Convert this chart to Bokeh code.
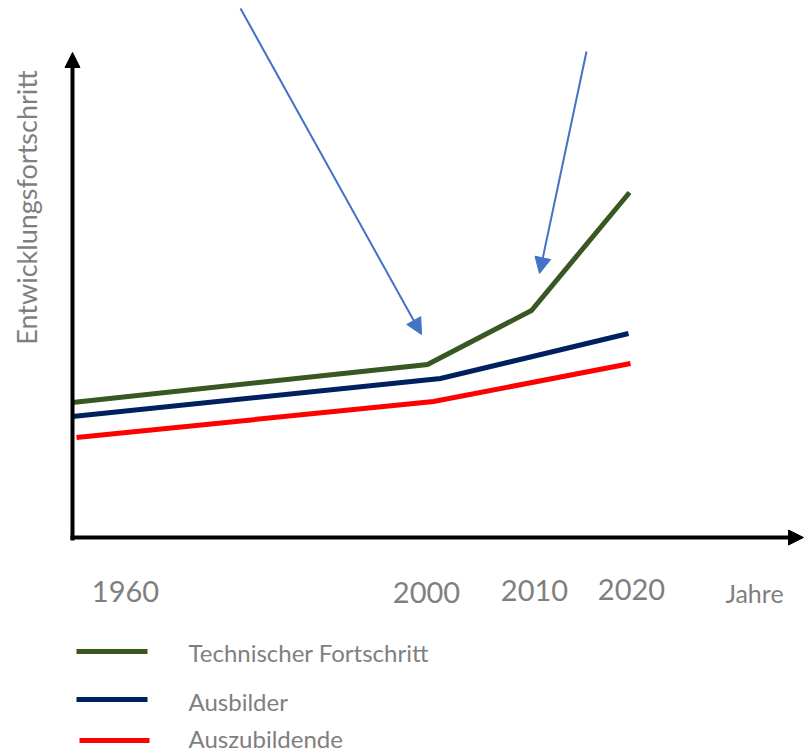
from math import pi

from bokeh.core.properties import value
from bokeh.embed import file_html
from bokeh.models import Arrow, NormalHead, Range1d
from bokeh.plotting import figure
from bokeh.resources import INLINE

# Timeline positions (horizontal units from the vertical axis) and development levels
tech_x = [0, 355, 459, 557]
tech_y = [135, 173, 227, 345]

trainer_x = [0, 368, 556]
trainer_y = [121, 159, 204]

trainee_x = [4, 361, 558]
trainee_y = [100, 136, 174]

# Year labels under the time axis
years = ["1960", "2000", "2010", "2020"]
year_x = [53, 354, 462, 559]
year_y = [-54, -55, -53, -52]

series_names = ["Technischer Fortschritt", "Ausbilder", "Auszubildende"]
series_colors = ["#385723", "#002060", "#FF0000"]

GRAY = "#7f7f7f"
FONT = value("Lato")

p = figure(
    width=805, height=753,
    x_range=Range1d(-72, 733), y_range=Range1d(-216, 537),
    output_backend="svg", toolbar_location=None,
    min_border=0, outline_line_color=None,
)
p.axis.visible = False
p.grid.visible = False
p.background_fill_color = "white"
p.border_fill_color = "white"

# Axes drawn as arrows
axis_head = dict(size=15, fill_color="black", line_color="black", line_width=1)
p.add_layout(Arrow(x_start=0, y_start=-3, x_end=0, y_end=485,
                   line_color="black", line_width=4, end=NormalHead(**axis_head)))
p.add_layout(Arrow(x_start=-2, y_start=0, x_end=731, y_end=0,
                   line_color="black", line_width=4, end=NormalHead(**axis_head)))

# Development curves
for xs, ys, color in zip([tech_x, trainer_x, trainee_x],
                         [tech_y, trainer_y, trainee_y], series_colors):
    p.line(xs, ys, line_color=color, line_width=5, line_join="miter")

# Pointer arrows to the bends of the technology curve
ptr_head = dict(size=16, fill_color="#4472C4", line_color="#4472C4", line_width=1)
p.add_layout(Arrow(x_start=168, y_start=529, x_end=349, y_end=203,
                   line_color="#4472C4", line_width=2, end=NormalHead(**ptr_head)))
p.add_layout(Arrow(x_start=514, y_start=486, x_end=467, y_end=264,
                   line_color="#4472C4", line_width=2, end=NormalHead(**ptr_head)))

# Year labels and axis titles
p.text(year_x, year_y, text=years, text_font=FONT, text_font_size=value("29px"),
       text_color=GRAY, text_align="center", text_baseline="middle")
p.text([682], [-55], text=["Jahre"], text_font=FONT, text_font_size=value("25px"),
       text_color=GRAY, text_align="center", text_baseline="middle")
p.text([-46], [330], text=["Entwicklungsfortschritt"], angle=pi / 2,
       text_font=FONT, text_font_size=value("27px"), text_color=GRAY,
       text_align="center", text_baseline="middle")

# Legend
legend_y = [-114, -162, -203]
p.segment(x0=[4, 4, 7], y0=legend_y, x1=[75, 75, 77], y1=legend_y,
          line_color=series_colors, line_width=5)
p.text([116] * 3, [-115, -164, -201], text=series_names, text_font=FONT,
       text_font_size=value("24px"), text_color=GRAY,
       text_align="left", text_baseline="middle")

open("out.html", "w").write(file_html(p, INLINE))
